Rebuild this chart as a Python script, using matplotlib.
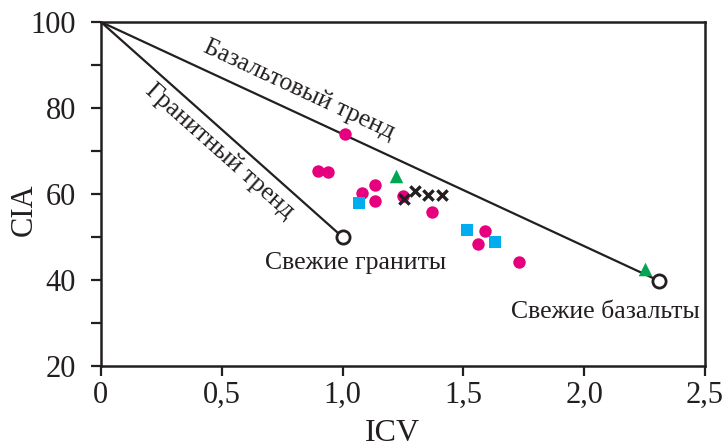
import numpy as np
import matplotlib.pyplot as plt

plt.rcParams['font.family'] = ['Liberation Serif', 'DejaVu Serif']

# trend end members (ICV, CIA)
apex = [0.0, 100.0]
granite = [1.0, 50.0]
basalt = [2.31, 39.8]

# samples
circ_x = [0.90, 0.94, 1.01, 1.135, 1.08, 1.135, 1.25, 1.37, 1.59, 1.56, 1.73]
circ_y = [65.4, 65.1, 74.0, 62.1, 60.3, 58.4, 59.5, 55.8, 51.3, 48.4, 44.3]
sq_x = [1.07, 1.515, 1.63]
sq_y = [58.0, 51.6, 48.8]
tri_x = [1.22, 2.25]
tri_y = [64.2, 42.6]
cross_x = [1.255, 1.30, 1.355, 1.41]
cross_y = [58.8, 60.8, 59.8, 59.8]

xticks = [0, 0.5, 1.0, 1.5, 2.0, 2.5]
xticklabels = ['0', '0,5', '1,0', '1,5', '2,0', '2,5']
yticks = [20, 40, 60, 80, 100]

fig = plt.figure(figsize=(7.26, 4.48), dpi=100)
ax = fig.add_axes([0.139, 0.183, 0.832, 0.768])
ax.set_xlim(0, 2.5)
ax.set_ylim(20, 100)

# trend lines
ax.plot([apex[0], basalt[0]], [apex[1], basalt[1]], color='#231f20', lw=1.6, zorder=2)
ax.plot([apex[0], granite[0]], [apex[1], granite[1]], color='#231f20', lw=1.6, zorder=2)

ax.scatter(circ_x, circ_y, s=80, color='#e6007e', zorder=3, linewidths=0)
ax.scatter(sq_x, sq_y, s=75, marker='s', color='#00aeef', zorder=3, linewidths=0)
ax.scatter(tri_x, tri_y, s=95, marker='^', color='#00a651', zorder=3, linewidths=0)
ax.scatter(cross_x, cross_y, s=55, marker='x', color='#231f20', zorder=3, linewidths=2.4)

ax.plot([granite[0], basalt[0]], [granite[1], basalt[1]], 'o', ms=9.5,
        mfc='white', mec='#231f20', mew=2, ls='none', zorder=4)

# angles of the trend lines on screen
def screen_angle(p, q):
    a = ax.transData.transform(p)
    b = ax.transData.transform(q)
    return np.degrees(np.arctan2(b[1] - a[1], b[0] - a[0]))

ang_b = screen_angle(apex, basalt)
ang_g = screen_angle(apex, granite)

ax.text(0.82, 84.2, 'Базальтовый тренд', rotation=ang_b, rotation_mode='anchor',
        ha='center', va='center', fontsize=18.5, color='#231f20')
ax.text(0.49, 70.0, 'Гранитный тренд', rotation=ang_g, rotation_mode='anchor',
        ha='center', va='center', fontsize=18.5, color='#231f20')
ax.text(1.054, 44.0, 'Свежие граниты', ha='center', va='center', fontsize=18.5, color='#231f20')
ax.text(2.087, 32.6, 'Свежие базальты', ha='center', va='center', fontsize=18.5, color='#231f20')

ax.set_xticks(xticks)
ax.set_xticklabels(xticklabels)
ax.set_yticks(yticks)
ax.set_yticks([30, 50, 70, 90], minor=True)
ax.tick_params(axis='both', which='both', direction='out', width=1.6, color='#231f20',
               labelsize=22, labelcolor='#231f20')
ax.tick_params(axis='both', which='major', length=7)
ax.tick_params(axis='y', which='minor', length=7)
ax.tick_params(axis='y', which='major', pad=11)
for s in ax.spines.values():
    s.set_linewidth(1.8)
    s.set_color('#231f20')

ax.set_xlabel('ICV', fontsize=23, color='#231f20', va='center')
ax.set_ylabel('CIA', fontsize=22, color='#231f20', va='center')
ax.xaxis.set_label_coords(0.482, -0.195)
ax.yaxis.set_label_coords(-0.127, 0.453)

plt.savefig('out.png', dpi=100)
